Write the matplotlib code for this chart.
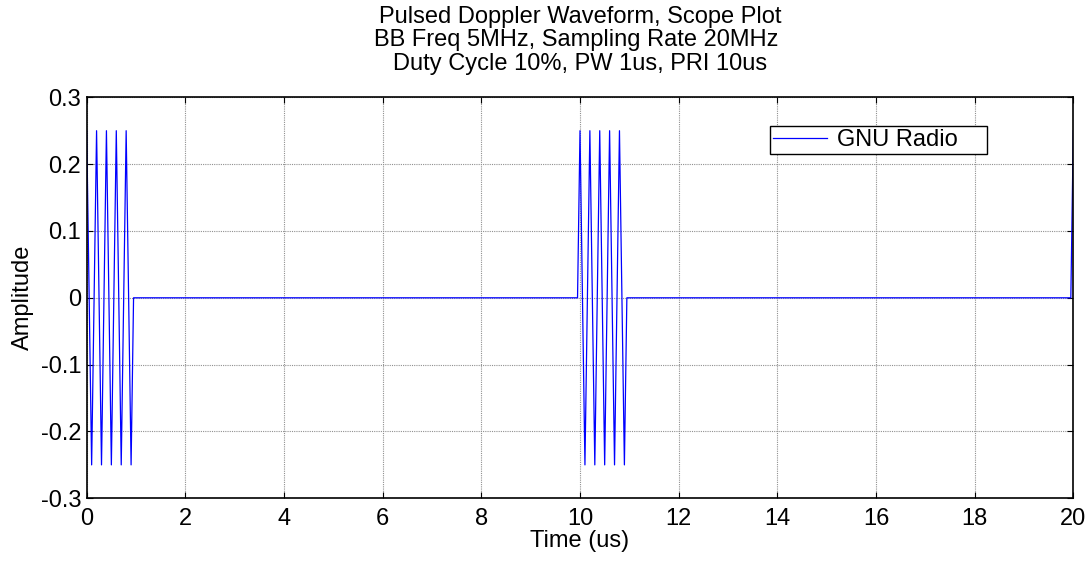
import numpy as np
import matplotlib
matplotlib.use("Agg")
import matplotlib.pyplot as plt

plt.rcParams['font.family'] = ['Liberation Sans', 'DejaVu Sans']

# Scope capture of the pulsed Doppler waveform (time in microseconds)
sample_interval_us = 0.05          # 20 MHz sampling
capture_span_us = 20.0
pulse_starts_us = [0.0, 10.0, 20.0]  # PRI 10 us
# One 1 us pulse: 5 MHz tone sampled at 20 MHz (20 samples)
pulse_samples = [0.25, 0.0, -0.25, 0.0,
                 0.25, 0.0, -0.25, 0.0,
                 0.25, 0.0, -0.25, 0.0,
                 0.25, 0.0, -0.25, 0.0,
                 0.25, 0.0, -0.25, 0.0]

x_ticks = [0, 2, 4, 6, 8, 10, 12, 14, 16, 18, 20]
y_ticks = [-0.3, -0.2, -0.1, 0.0, 0.1, 0.2, 0.3]
y_tick_labels = ['-0.3', '-0.2', '-0.1', '0', '0.1', '0.2', '0.3']

n_samples = int(round(capture_span_us / sample_interval_us)) + 1
t = np.arange(n_samples) * sample_interval_us
amp = np.zeros(n_samples)
for start in pulse_starts_us:
    i0 = int(round(start / sample_interval_us))
    for k, v in enumerate(pulse_samples):
        if i0 + k < n_samples:
            amp[i0 + k] = v

fs = 17
fig = plt.figure(figsize=(10.89, 5.62), dpi=100)
ax = fig.add_axes([86.7 / 1089, 1 - 498.3 / 562,
                   (1073.3 - 86.7) / 1089, (498.3 - 97.3) / 562])

ax.plot(t, amp, color='#0000ff', lw=0.9, label='GNU Radio    ')

ax.set_xlim(0, 20)
ax.set_ylim(-0.3, 0.3)
ax.set_xticks(x_ticks)
ax.set_xticklabels([str(v) for v in x_ticks])
ax.set_yticks(y_ticks)
ax.set_yticklabels(y_tick_labels)
ax.tick_params(direction='in', length=4, width=0.8, top=True, right=True,
               labelsize=fs, colors='black')
ax.tick_params(axis='x', pad=7)
ax.tick_params(axis='y', pad=4)
for s in ax.spines.values():
    s.set_linewidth(1.2)
    s.set_color('black')
ax.grid(True, color='#909090', ls=(0, (1, 1)), lw=0.8)
ax.set_axisbelow(True)

ax.set_xlabel('Time (us)', fontsize=fs, labelpad=0)
ax.set_ylabel('Amplitude', fontsize=fs, labelpad=5)
ax.set_title('Pulsed Doppler Waveform, Scope Plot\n'
             'BB Freq 5MHz, Sampling Rate 20MHz \n'
             'Duty Cycle 10%, PW 1us, PRI 10us',
             fontsize=fs, linespacing=1.07, pad=20)

leg = ax.legend(loc='upper right', bbox_to_anchor=(987 / 1089, 1 - 126 / 562),
                bbox_transform=fig.transFigure, borderaxespad=0,
                fontsize=fs, frameon=True, fancybox=False, framealpha=1,
                borderpad=0.12, handlelength=2.3, handletextpad=0.4)
leg.get_frame().set_edgecolor('black')
leg.get_frame().set_linewidth(1.0)

fig.savefig('out.png', dpi=100, facecolor='white')
